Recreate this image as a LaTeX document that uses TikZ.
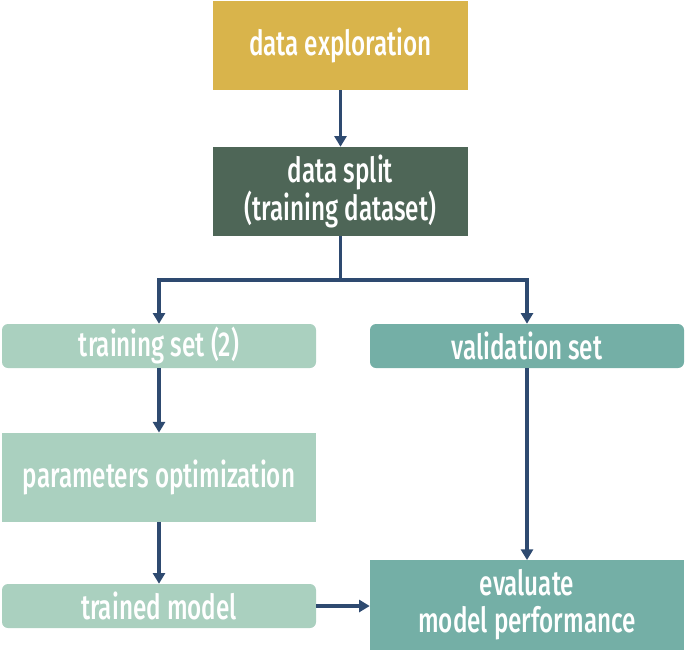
\documentclass[tikz,border=0pt]{standalone}
\usepackage{fontspec}
\setmainfont[UprightFont=* Medium, FakeStretch=0.7]{Fira Sans}
\usetikzlibrary{arrows.meta}
\definecolor{gold}{HTML}{D9B44B}
\definecolor{darkgreen}{HTML}{4E6657}
\definecolor{lightgreen}{HTML}{AAD0BF}
\definecolor{teal}{HTML}{74AFA6}
\definecolor{navy}{HTML}{2E4A70}
\tikzset{
    every node/.style={rectangle, inner sep=0pt, text=white, align=center,
        font=\fontsize{26pt}{27.5pt}\selectfont},
    bigbox/.style={minimum width=191.25pt, minimum height=66.75pt},
    widebox/.style={minimum width=235.5pt, minimum height=67pt},
    slimbox/.style={minimum width=235.5pt, minimum height=33pt, rounded corners=4.5pt},
    flow/.style={draw=navy, line width=2.4pt, -{Triangle[width=9pt,length=8pt]}}
}

\begin{document}
\begin{tikzpicture}[x=0.75pt, y=-0.75pt]
    \useasboundingbox (0,0) rectangle (685,668);

    \node (explore) at (340.5, 45.5) [bigbox, fill=gold] {data exploration};
    \node (split) at (340.5, 191.5) [bigbox, fill=darkgreen] {data split\\(training dataset)};

    \node (trainset) at (159, 346) [slimbox, fill=lightgreen] {training set (2)};
    \node (valset) at (527, 346) [slimbox, fill=teal] {validation set};

    \node (optim) at (159, 477.5) [widebox, fill=lightgreen] {parameters optimization};
    \node (model) at (159, 606) [slimbox, fill=lightgreen] {trained model};
    \node (evaluate) at (527, 605) [widebox, fill=teal] {evaluate\\model performance};

    \coordinate (fork) at (340.5, 280);

    \draw[flow] (explore) -- (split);
    \draw[draw=navy, line width=2.4pt] (split) -- (fork);
    \draw[flow] (fork) -| (trainset);
    \draw[flow] (fork) -| (valset);
    \draw[flow] (trainset) -- (optim);
    \draw[flow] (optim) -- (model);
    \draw[flow] (valset) -- (evaluate);
    \draw[flow] (model) -- (model -| evaluate.west);
\end{tikzpicture}
\end{document}
